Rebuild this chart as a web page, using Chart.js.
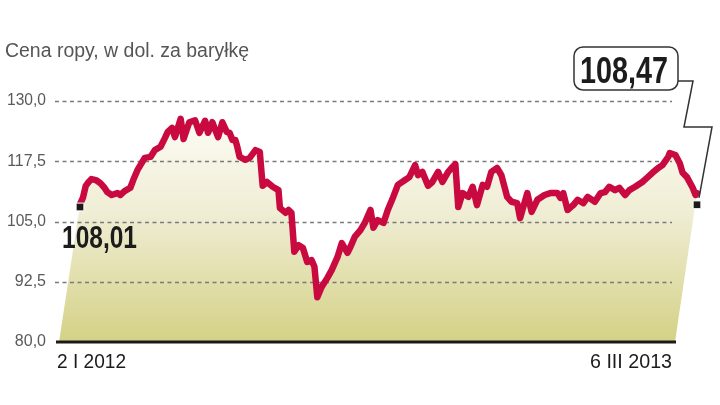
<!DOCTYPE html>
<html>
<head>
<meta charset="utf-8">
<script src="https://cdn.jsdelivr.net/npm/chart.js@4.4.1/dist/chart.umd.min.js"></script>
<style>
  body { margin: 0; background: #fff; }
  #wrap { width: 720px; height: 405px; }
</style>
</head>
<body>
<div id="wrap"><canvas id="oilChart" width="720" height="405"></canvas></div>
<script>
const chartTitle = 'Cena ropy, w dol. za baryłkę';

// days since 2 I 2012, Brent price in USD
const days = [
  0, 2, 4, 6, 8, 11, 14, 17, 19, 21, 22, 26, 28, 31, 35, 37, 40, 42, 45, 49,
  52, 56, 59, 61, 64, 66, 70, 72, 73, 76, 80, 83, 87, 89, 92, 96, 99, 102, 104, 106,
  108, 109, 111, 115, 118, 122, 125, 127, 130, 134, 138, 139, 143, 145, 147, 149, 152, 155, 158, 161,
  163, 165, 168, 172, 175, 179, 182, 186, 188, 191, 195, 198, 202, 204, 207, 211, 214, 217, 221, 226,
  229, 233, 235, 238, 242, 245, 249, 252, 256, 259, 261, 263, 266, 270, 273, 276, 280, 283, 286, 290,
  293, 297, 300, 304, 306, 309, 311, 314, 318, 323, 327, 332, 334, 336, 339, 343, 346, 350, 353, 358,
  362, 365, 368, 372, 375, 379, 382, 386, 391, 394, 398, 402, 405, 409, 410, 414, 417, 419, 422, 426,
  428, 429
];
const prices = [
  108.6, 109.9, 112.4, 113.2, 113.8, 113.6, 113.0, 112.0, 111.1, 110.7, 110.5, 110.9, 110.5, 111.3, 112.0, 113.6, 115.7, 116.7, 118.2, 118.4,
  119.8, 120.5, 122.3, 123.6, 124.4, 122.5, 126.3, 122.1, 123.0, 125.6, 126.0, 123.4, 125.9, 123.4, 125.6, 122.5, 125.6, 123.6, 123.4, 121.9,
  121.9, 120.9, 118.4, 117.8, 118.2, 119.8, 119.4, 112.4, 113.2, 112.2, 111.5, 107.8, 106.8, 107.4, 106.8, 98.7, 100.1, 99.5, 96.6, 97.0,
  95.6, 89.3, 91.4, 93.3, 94.9, 97.6, 100.5, 98.5, 99.7, 101.8, 103.2, 104.7, 107.4, 103.7, 105.3, 104.7, 107.4, 109.5, 112.6, 113.6,
  114.2, 116.7, 114.6, 115.3, 112.4, 113.2, 115.3, 113.2, 115.3, 116.3, 116.9, 108.0, 110.9, 110.1, 112.2, 108.4, 112.6, 112.2, 115.3, 116.1,
  114.6, 110.1, 109.1, 108.8, 105.7, 108.8, 110.9, 107.0, 109.5, 110.5, 110.9, 110.9, 109.9, 110.9, 107.4, 108.4, 109.5, 108.8, 110.1, 109.1,
  110.9, 111.1, 112.2, 111.5, 112.0, 110.5, 111.5, 112.2, 113.2, 114.0, 115.1, 116.1, 116.7, 118.4, 119.2, 118.8, 117.1, 115.1, 114.2, 112.0,
  110.5, 110.9
];

const markerDays = [0, 429];
const markerValues = [108.01, 108.47];
const markerTexts = ['108,01', '108,47'];

const yTicks = [80, 92.5, 105, 117.5, 130];
const xTickDays = [0, 429];
const xTickLabels = ['2 I 2012', '6 III 2013'];

const lineColor = '#c80a40';
const gridColor = '#7a7a7a';

function fillTextFit(ctx, text, x, y, width, align) {
    const w = ctx.measureText(text).width;
    const k = Math.min(1, width / w);
    ctx.save();
    ctx.translate(x, y);
    ctx.scale(k, 1);
    ctx.textAlign = align || 'left';
    ctx.fillText(text, 0, 0);
    ctx.restore();
}

// skewed area under the line + dashed grid + base line
const backdropPlugin = {
    id: 'backdrop',
    beforeDatasetsDraw(chart) {
        const ctx = chart.ctx;
        const area = chart.chartArea;
        const ys = chart.scales.y;
        const pts = chart.getDatasetMeta(0).data;
        const bottom = ys.getPixelForValue(80);

        ctx.save();
        const grad = ctx.createLinearGradient(0, ys.getPixelForValue(124), 0, bottom);
        grad.addColorStop(0, '#fbfaf1');
        grad.addColorStop(0.4, '#efedd3');
        grad.addColorStop(1, '#d4d186');
        ctx.beginPath();
        ctx.moveTo(pts[0].x, pts[0].y);
        pts.forEach(p => ctx.lineTo(p.x, p.y));
        ctx.lineTo(pts[pts.length - 1].x - 22, bottom);
        ctx.lineTo(pts[0].x - 21, bottom);
        ctx.closePath();
        ctx.fillStyle = grad;
        ctx.fill();

        ctx.strokeStyle = gridColor;
        ctx.lineWidth = 1.3;
        ctx.setLineDash([4, 3.5]);
        yTicks.forEach(v => {
            if (v === 80) return;
            const y = Math.round(ys.getPixelForValue(v)) + 0.5;
            ctx.beginPath();
            ctx.moveTo(area.left - 25, y);
            ctx.lineTo(area.right - 25, y);
            ctx.stroke();
        });
        ctx.setLineDash([]);

        ctx.strokeStyle = '#1a1a1a';
        ctx.lineWidth = 3;
        ctx.beginPath();
        ctx.moveTo(area.left - 24, bottom);
        ctx.lineTo(area.right - 21, bottom);
        ctx.stroke();
        ctx.restore();
    },
    afterDraw(chart) {
        const ctx = chart.ctx;
        const xs = chart.scales.x;
        const ys = chart.scales.y;
        ctx.save();

        ctx.fillStyle = '#555';
        ctx.textBaseline = 'alphabetic';
        ctx.font = '20px "Liberation Sans", Arial, sans-serif';
        fillTextFit(ctx, chartTitle, 5, 57, 244);

        ctx.fillStyle = '#5a5a5a';
        ctx.font = '16px "Liberation Sans", Arial, sans-serif';
        ctx.textBaseline = 'middle';
        yTicks.forEach(v => {
            fillTextFit(ctx, v.toFixed(1).replace('.', ','), 46, ys.getPixelForValue(v), 39, 'right');
        });

        ctx.fillStyle = '#1c1c1c';
        ctx.font = '20px "Liberation Sans", Arial, sans-serif';
        ctx.textBaseline = 'alphabetic';
        fillTextFit(ctx, xTickLabels[0], xs.getPixelForValue(xTickDays[0]) - 23, 368, 69, 'left');
        fillTextFit(ctx, xTickLabels[1], xs.getPixelForValue(xTickDays[1]) - 25, 368, 82, 'right');

        // first value
        ctx.font = 'bold 32px "Liberation Sans", Arial, sans-serif';
        fillTextFit(ctx, markerTexts[0], xs.getPixelForValue(markerDays[0]) - 18, 248, 75, 'left');

        // last value in a box with leader line
        const ex = xs.getPixelForValue(markerDays[1]);
        const ey = ys.getPixelForValue(markerValues[1]);
        ctx.fillStyle = '#fff';
        ctx.strokeStyle = '#333';
        ctx.lineWidth = 1.5;
        ctx.beginPath();
        ctx.roundRect(574, 47, 104, 43, 9);
        ctx.fill();
        ctx.stroke();
        ctx.beginPath();
        ctx.moveTo(678, 81);
        ctx.lineTo(693, 81);
        ctx.lineTo(684, 127);
        ctx.lineTo(712, 127);
        ctx.lineTo(ex + 2, ey - 7);
        ctx.stroke();

        ctx.fillStyle = '#1c1c1c';
        ctx.font = 'bold 36px "Liberation Sans", Arial, sans-serif';
        fillTextFit(ctx, markerTexts[1], 580, 83, 88, 'left');
        ctx.restore();
    }
};

const ctx = document.getElementById('oilChart').getContext('2d');
new Chart(ctx, {
    type: 'line',
    data: {
        datasets: [{
            data: days.map((d, i) => ({ x: d, y: prices[i] })),
            borderColor: lineColor,
            borderWidth: 6.5,
            borderJoinStyle: 'round',
            borderCapStyle: 'round',
            pointRadius: 0,
            tension: 0,
            fill: false,
            clip: false,
            order: 1
        }, {
            data: markerDays.map((d, i) => ({ x: d, y: markerValues[i] })),
            showLine: false,
            pointStyle: 'rect',
            pointRadius: 5.5,
            pointBackgroundColor: '#1a1a1a',
            pointBorderColor: '#fff',
            pointBorderWidth: 1,
            clip: false,
            order: 0
        }]
    },
    options: {
        responsive: false,
        animation: false,
        events: [],
        layout: { padding: { left: 80, right: 23, top: 101, bottom: 63 } },
        plugins: { legend: { display: false }, tooltip: { enabled: false } },
        scales: {
            x: { type: 'linear', min: 0, max: 429, display: false },
            y: { min: 80, max: 130, display: false }
        }
    },
    plugins: [backdropPlugin]
});
</script>
</body>
</html>
